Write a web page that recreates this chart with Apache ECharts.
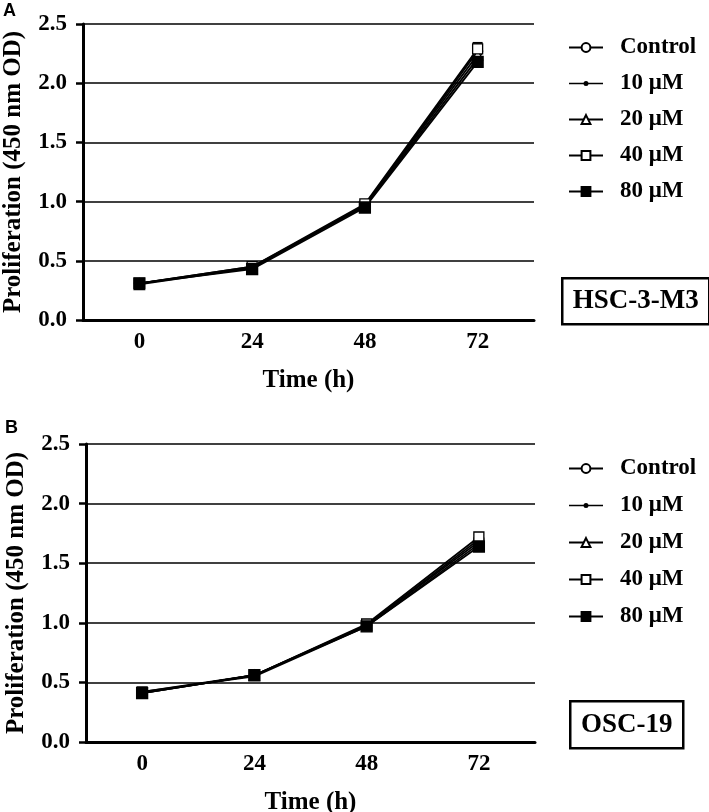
<!DOCTYPE html>
<html>
<head>
<meta charset="utf-8">
<script src="https://cdn.jsdelivr.net/npm/echarts@6/dist/echarts.min.js"></script>
<style>html,body{margin:0;padding:0;background:#fff}#c{width:709px;height:812px}</style>
</head>
<body>
<div id="c"></div>
<script>
// ---- data ----
const times = ['0', '24', '48', '72'];
const seriesNames = ['Control', '10 \u03bcM', '20 \u03bcM', '40 \u03bcM', '80 \u03bcM'];
const yTicks = ['0.0', '0.5', '1.0', '1.5', '2.0', '2.5'];
const panelLabels = ['A', 'B'];
const cellLines = ['HSC-3-M3', 'OSC-19'];

// Panel A (HSC-3-M3)
const controlA = [0.31, 0.44, 0.97, 2.27];
const uM10A    = [0.31, 0.45, 0.96, 2.21];
const uM20A    = [0.30, 0.44, 0.97, 2.24];
const uM40A    = [0.31, 0.45, 0.98, 2.29];
const uM80A    = [0.31, 0.43, 0.95, 2.18];
const errA40   = [0.01, 0.01, 0.02, 0.05];

// Panel B (OSC-19)
const controlB = [0.41, 0.56, 0.98, 1.70];
const uM10B    = [0.42, 0.55, 0.97, 1.66];
const uM20B    = [0.41, 0.56, 0.98, 1.68];
const uM40B    = [0.42, 0.56, 0.99, 1.72];
const uM80B    = [0.41, 0.56, 0.97, 1.64];
const errB40   = [0.01, 0.01, 0.02, 0.02];

const FONT = 'Liberation Serif';
const chart = echarts.init(document.getElementById('c'));

const markerDefs = [
  {symbol: 'circle', size: 10, fill: '#fff'},
  {symbol: 'circle', size: 6, fill: '#000'},
  {symbol: 'triangle', size: 10, fill: '#fff'},
  {symbol: 'rect', size: 10, fill: '#fff'},
  {symbol: 'rect', size: 11, fill: '#000'}
];

function lineSeries(idx, name, data) {
  const m = markerDefs[seriesNames.indexOf(name)];
  return {
    type: 'line', name: name, xAxisIndex: idx, yAxisIndex: idx, data: data,
    symbol: m.symbol, symbolSize: m.size, showAllSymbol: true,
    lineStyle: {color: '#000', width: 1.8},
    itemStyle: {color: m.fill, borderColor: '#000', borderWidth: 1.3},
    z: 3, animation: false
  };
}

function errSeries(idx, vals, errs) {
  return {
    type: 'custom', xAxisIndex: idx, yAxisIndex: idx, z: 2, silent: true, animation: false,
    data: vals.map((v, i) => [i, v, errs[i]]),
    renderItem: function (params, api) {
      const x = api.value(0), v = api.value(1), e = api.value(2);
      const top = api.coord([x, v + e]);
      const bot = api.coord([x, v - e]);
      return {type: 'group', children: [
        {type: 'line', shape: {x1: top[0], y1: top[1], x2: bot[0], y2: bot[1]}, style: {stroke: '#000', lineWidth: 1.5}},
        {type: 'line', shape: {x1: top[0] - 5, y1: top[1], x2: top[0] + 5, y2: top[1]}, style: {stroke: '#000', lineWidth: 2}}
      ]};
    }
  };
}

const axisFont = {fontFamily: FONT, fontWeight: 'bold', fontSize: 23, color: '#000'};

function xAxisCfg(idx) {
  return {
    type: 'category', gridIndex: idx, data: times, boundaryGap: true,
    name: 'Time (h)', nameLocation: 'middle', nameGap: 48,
    nameTextStyle: {fontFamily: FONT, fontWeight: 'bold', fontSize: 25, color: '#000'},
    axisLine: {lineStyle: {color: '#000', width: 3}},
    axisTick: {alignWithLabel: true, length: 8, lineStyle: {color: '#000', width: 2.5}},
    axisLabel: Object.assign({margin: 11}, axisFont),
    splitLine: {show: false}
  };
}
function yAxisCfg(idx) {
  return {
    type: 'value', gridIndex: idx, min: 0, max: 2.5, interval: 0.5,
    name: 'Proliferation (450 nm OD)', nameLocation: 'middle', nameGap: 57,
    nameTextStyle: {fontFamily: FONT, fontWeight: 'bold', fontSize: 25, color: '#000'},
    axisLine: {show: true, lineStyle: {color: '#000', width: 3}},
    axisTick: {show: true, length: 7, lineStyle: {color: '#000', width: 2.5}},
    axisLabel: Object.assign({margin: 16, formatter: v => yTicks[Math.round(v / 0.5)]}, axisFont),
    splitLine: {show: true, lineStyle: {color: '#000', width: 1.5}}
  };
}

// legend icon for the small filled dot (10 uM): line + small dot
const dotIcon = 'path://M0,5.3 L34,5.3 L34,6.7 L0,6.7 Z M19.5,6 A2.5,2.5 0 1,1 14.5,6 A2.5,2.5 0 1,1 19.5,6 Z';

function legendCfg(top, gap) {
  return {
    orient: 'vertical', left: 563, top: top, itemWidth: 34, itemHeight: 11, itemGap: gap,
    data: seriesNames.map((n, i) => i === 1 ? {name: n, icon: dotIcon, itemStyle: {borderWidth: 0}} : n),
    textStyle: {fontFamily: FONT, fontWeight: 'bold', fontSize: 23, color: '#000', padding: [0, 0, 0, 12]},
    selectedMode: false
  };
}

function boxGraphic(cx, cy, w, h, label) {
  return {
    type: 'group', left: cx - w / 2, top: cy - h / 2,
    children: [
      {type: 'rect', shape: {x: 0, y: 0, width: w, height: h}, style: {fill: '#fff', stroke: '#000', lineWidth: 2.5}},
      {type: 'text', x: w / 2, y: h / 2, style: {text: label, fontFamily: FONT, fontWeight: 'bold', fontSize: 27, fill: '#000', align: 'center', verticalAlign: 'middle'}}
    ]
  };
}

const option = {
  backgroundColor: '#fff',
  animation: false,
  grid: [
    {left: 83, top: 24, width: 451, height: 296, outerBoundsMode: 'none', containLabel: false},
    {left: 86, top: 444, width: 449, height: 298, outerBoundsMode: 'none', containLabel: false}
  ],
  xAxis: [xAxisCfg(0), xAxisCfg(1)],
  yAxis: [yAxisCfg(0), yAxisCfg(1)],
  legend: [legendCfg(31, 13), legendCfg(452, 14)],
  series: [
    errSeries(0, uM40A, errA40),
    lineSeries(0, seriesNames[0], controlA),
    lineSeries(0, seriesNames[1], uM10A),
    lineSeries(0, seriesNames[2], uM20A),
    lineSeries(0, seriesNames[3], uM40A),
    lineSeries(0, seriesNames[4], uM80A),
    errSeries(1, uM40B, errB40),
    lineSeries(1, seriesNames[0], controlB),
    lineSeries(1, seriesNames[1], uM10B),
    lineSeries(1, seriesNames[2], uM20B),
    lineSeries(1, seriesNames[3], uM40B),
    lineSeries(1, seriesNames[4], uM80B)
  ],
  graphic: [
    {type: 'text', left: 3, top: 2, style: {text: panelLabels[0], fontFamily: 'Liberation Sans', fontWeight: 'bold', fontSize: 18, fill: '#000'}},
    {type: 'text', left: 5, top: 419, style: {text: panelLabels[1], fontFamily: 'Liberation Sans', fontWeight: 'bold', fontSize: 18, fill: '#000'}},
    boxGraphic(634.5, 300, 147, 46, cellLines[0]),
    boxGraphic(625.5, 723.5, 113, 47, cellLines[1])
  ]
};
chart.setOption(option);
</script>
</body>
</html>
